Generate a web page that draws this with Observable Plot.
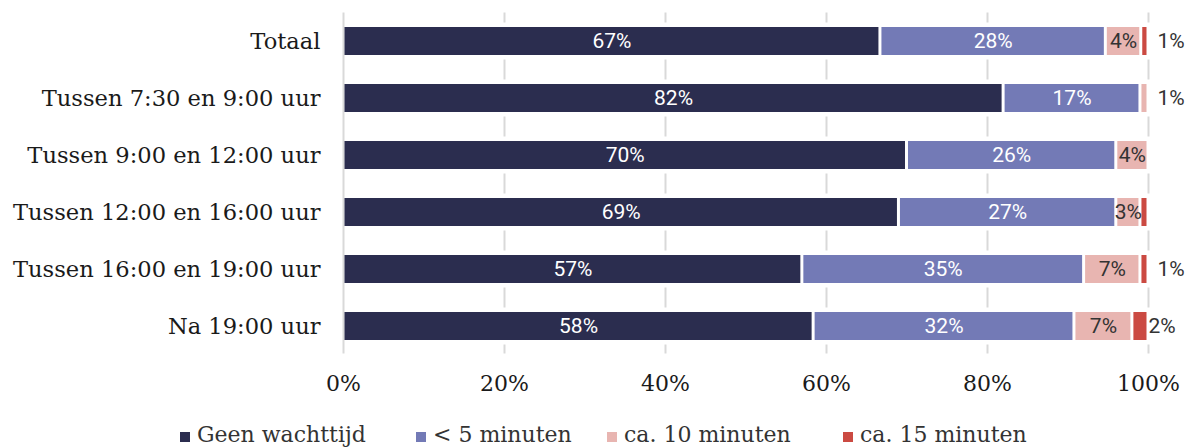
<!DOCTYPE html>
<html>
<head>
<meta charset="utf-8">
<script src="https://cdn.jsdelivr.net/npm/d3@7"></script>
<script src="https://cdn.jsdelivr.net/npm/@observablehq/plot@0.6"></script>
<style>
  html, body { margin: 0; padding: 0; background: #fff; }
  #wrap { position: relative; width: 1185px; height: 448px; overflow: hidden; }
  #legend { position: absolute; left: 0; top: 422px; width: 1185px; height: 26px;
    font-family: "DejaVu Serif", serif; font-size: 22px; color: #333; white-space: nowrap; line-height: 26px; }
  #legend .item { position: absolute; top: 0; display: flex; align-items: center; }
  #legend .sw { width: 10px; height: 10px; margin-right: 7px; margin-top: 4px; }
</style>
</head>
<body>
<div id="wrap">
  <div id="chart"></div>
  <div id="legend"></div>
</div>
<script>
const categories = ["Totaal", "Tussen 7:30 en 9:00 uur", "Tussen 9:00 en 12:00 uur",
  "Tussen 12:00 en 16:00 uur", "Tussen 16:00 en 19:00 uur", "Na 19:00 uur"];
const series = ["Geen wachttijd", "< 5 minuten", "ca. 10 minuten", "ca. 15 minuten"];
const colors = ["#2b2d4f", "#737ab6", "#e8b5b1", "#cb4a42"];

const geenWachttijd = [66.7, 82.0, 70.0, 69.0, 57.0, 58.4];
const minder5 = [28.0, 17.0, 26.0, 27.0, 35.0, 32.4];
const ca10 = [4.4, 1.0, 4.0, 3.0, 7.0, 7.2];
const ca15 = [0.9, 0, 0, 1.0, 1.0, 2.0];

const labelsGeen = ["67%", "82%", "70%", "69%", "57%", "58%"];
const labels5 = ["28%", "17%", "26%", "27%", "35%", "32%"];
const labels10 = ["4%", "1%", "4%", "3%", "7%", "7%"];
const labels15 = ["1%", "", "", "", "1%", "2%"];

const xTicks = [0, 20, 40, 60, 80, 100];

const valueArrays = [geenWachttijd, minder5, ca10, ca15];
const labelArrays = [labelsGeen, labels5, labels10, labels15];
const textColors = ["#ffffff", "#ffffff", "#333333", "#333333"];

const segs = [];
categories.forEach((cat, i) => {
  let acc = 0;
  series.forEach((s, j) => {
    const v = valueArrays[j][i];
    const x1 = acc, x2 = acc + v;
    acc = x2;
    if (v > 0) {
      segs.push({cat, series: s, si: j, x1, x2, value: v, label: labelArrays[j][i]});
    }
  });
});

const inside = segs.filter(d => d.label && d.value >= 2.5);
const outsideFar = segs.filter(d => d.label && d.value < 1.5);
const outsideNear = segs.filter(d => d.label && d.value >= 1.5 && d.value < 2.5);

const chart = Plot.plot({
  width: 1185,
  height: 410,
  marginLeft: 343,
  marginRight: 37,
  marginTop: 12.5,
  marginBottom: 56.5,
  style: {fontFamily: "DejaVu Serif, serif", fontSize: "22px", color: "#1a1a1a", background: "#fff"},
  x: {domain: [0, 100], ticks: xTicks, tickFormat: d => d + "%", label: null},
  y: {domain: categories, paddingInner: 0.51, paddingOuter: 0.245, label: null},
  color: {domain: series, range: colors},
  marks: [
    Plot.ruleX(xTicks.filter(t => t > 0), {stroke: "#d9d9d9", strokeWidth: 2}),
    Plot.barX(categories, {y: d => d, x1: 0, x2: 101, fill: "white", insetTop: -4.5, insetBottom: -4.5}),
    Plot.ruleX([0], {stroke: "#d9d9d9", strokeWidth: 2}),
    Plot.barX(segs, {y: "cat", x1: "x1", x2: "x2", fill: "series", insetLeft: 1.5, insetRight: 1.5}),
    Plot.text(inside, {y: "cat", x: d => (d.x1 + d.x2) / 2, text: "label",
      fill: d => textColors[d.si], fontFamily: "Roboto, sans-serif", fontSize: 21}),
    Plot.text(outsideFar, {y: "cat", x: 100, text: "label", textAnchor: "start", dx: 9,
      fill: "#333333", fontFamily: "Roboto, sans-serif", fontSize: 21}),
    Plot.text(outsideNear, {y: "cat", x: 100, text: "label", textAnchor: "start", dx: 0,
      fill: "#333333", fontFamily: "Roboto, sans-serif", fontSize: 21}),
    Plot.axisY({tickSize: 0, tickPadding: 23, fontSize: 22.6, label: null}),
    Plot.axisX({ticks: xTicks, tickFormat: d => d + "%", tickSize: 0, tickPadding: 21, fontSize: 22, label: null})
  ]
});
document.getElementById("chart").appendChild(chart);

const legend = document.getElementById("legend");
const itemLeft = [180, 416, 607, 843];
series.forEach((s, j) => {
  const item = document.createElement("div");
  item.className = "item";
  item.style.left = itemLeft[j] + "px";
  const sw = document.createElement("span");
  sw.className = "sw";
  sw.style.background = colors[j];
  const tx = document.createElement("span");
  tx.textContent = s;
  item.appendChild(sw);
  item.appendChild(tx);
  legend.appendChild(item);
});
</script>
</body>
</html>
